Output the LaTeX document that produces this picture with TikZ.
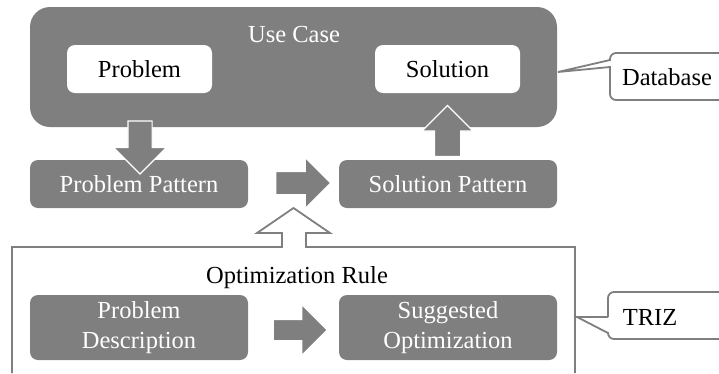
\documentclass[tikz,border=0pt]{standalone}
\usepackage{fontspec}
\setmainfont{Liberation Serif}
\usetikzlibrary{positioning,shapes.arrows,calc}
\definecolor{boxgray}{HTML}{7F7F7F}

\begin{document}
\begin{tikzpicture}[x=1pt, y=-1pt, font=\fontsize{24.5}{30}\selectfont,
    graybox/.style={fill=boxgray, rounded corners=8pt, text=white, align=center, minimum width=218pt, minimum height=48pt, inner sep=0pt, outer sep=0pt},
    whitebox/.style={fill=white, rounded corners=8pt, minimum width=145pt, minimum height=48pt, inner sep=0pt, outer sep=0pt},
    blockarrow/.style={single arrow, fill=boxgray, draw=white, line width=1.2pt, inner xsep=0pt, outer sep=0pt},
    outline/.style={draw=boxgray, line width=1.8pt, line join=miter}]
    \useasboundingbox (0,0) rectangle (719,373);
    % use case with problem and solution
    \node [graybox, rounded corners=20pt, minimum width=527pt, minimum height=120pt] (usecase) at (293.5,67) {};
    \node [text=white] (uclabel) at (294,35) {Use Case};
    \node [whitebox] (problem) at (139.5,69) {Problem};
    \node [whitebox, right=163pt of problem] (solution) {Solution};
    % patterns
    \node [graybox] (ppattern) at (139,184) {Problem Pattern};
    \node [graybox, right=91pt of ppattern] (spattern) {Solution Pattern};
    % optimization rule
    \node (orlabel) at (297,278) {Optimization Rule};
    \node [graybox, minimum height=65pt] (pdesc) at (139,327.5) {Problem\\Description};
    \node [graybox, minimum height=65pt, right=91pt of pdesc] (sopt) {Suggested\\Optimization};
    \draw [outline] (12,373) -- (12,247) -- (282,247) -- (282,233) -- (257,233) -- (293.5,208)
        -- (330,233) -- (306,233) -- (306,247) -- (575,247) -- (575,373);
    % block arrows
    \node [blockarrow, rotate=-90, minimum height=53pt, inner ysep=11.5pt, single arrow head extend=14.5pt] (a1) at (140,141.5) {};
    \node [blockarrow, minimum height=55pt, inner ysep=11pt, single arrow head extend=14pt] (a2) at (297.5,183) {};
    \node [blockarrow, rotate=90, minimum height=51pt, inner ysep=12.5pt, single arrow head extend=12.5pt] (a3) at (447.5,137.5) {};
    \node [blockarrow, minimum height=54pt, inner ysep=10pt, single arrow head extend=15pt] (a4) at (295,330) {};
    % callouts
    \node (db) at (667,77) {Database};
    \node (triz) at (650,317) {TRIZ};
    \coordinate (dbtip) at (558,72);
    \coordinate (triztip) at (577,317);
    \draw [outline] (610,67) -- (dbtip) -- (610,60) [rounded corners=6pt] -- (610,53) -- (719,53);
    \draw [outline, rounded corners=6pt] (719,100) -- (610,100) -- (610,72) [sharp corners] -- (610,67);
    \draw [outline] (608,317) -- (triztip) -- (608,333) [rounded corners=6pt] -- (608,339) -- (719,339);
    \draw [outline, rounded corners=6pt] (719,292) -- (608,292) -- (608,310) [sharp corners] -- (608,317);
\end{tikzpicture}
\end{document}
